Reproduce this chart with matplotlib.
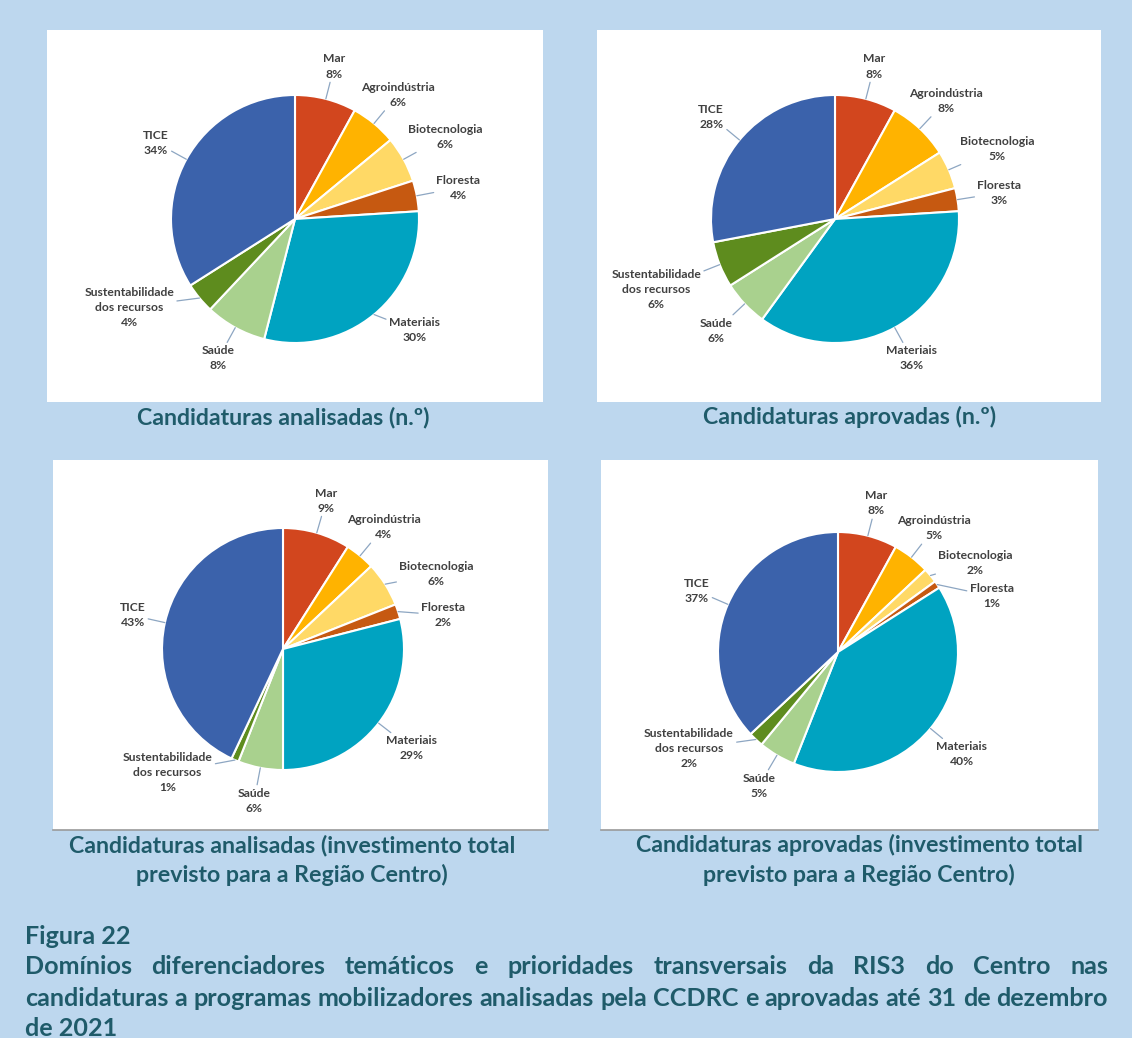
import numpy as np
import matplotlib.pyplot as plt
from matplotlib.patches import Rectangle

plt.rcParams['font.family'] = ['Lato', 'DejaVu Sans']

categories = ['Mar', 'Agroindústria', 'Biotecnologia', 'Floresta', 'Materiais',
              'Saúde', 'Sustentabilidade\ndos recursos', 'TICE']
analisadas_n = [8, 6, 6, 4, 30, 8, 4, 34]
aprovadas_n = [8, 8, 5, 3, 36, 6, 6, 28]
analisadas_inv = [9, 4, 6, 2, 29, 6, 1, 43]
aprovadas_inv = [8, 5, 2, 1, 40, 5, 2, 37]
captions = ['Candidaturas analisadas (n.º)',
            'Candidaturas aprovadas (n.º)',
            'Candidaturas analisadas (investimento total\nprevisto para a Região Centro)',
            'Candidaturas aprovadas (investimento total\nprevisto para a Região Centro)']

colors = ['#D2461E', '#FFB300', '#FFD966', '#C65911', '#00A3C1',
          '#A9D18E', '#5E8C1E', '#3B62AB']
bg = '#BDD7EE'
teal = '#1F5B6A'
label_col = '#404040'
leader_col = '#8DA6C2'

W, H = 1132, 1038
fig = plt.figure(figsize=(W / 100, H / 100), dpi=100, facecolor=bg)
ax = fig.add_axes([0, 0, 1, 1])
ax.set_xlim(0, W)
ax.set_ylim(0, H)
ax.axis('off')
renderer = fig.canvas.get_renderer()


def Y(y):
    return H - y


def text_box(s, size, **kw):
    t = ax.text(0, 0, s, fontsize=size, **kw)
    bb = t.get_window_extent(renderer)
    t.remove()
    return bb.width, bb.height


def fit(s, target, **kw):
    return 10 * target / text_box(s, 10, **kw)[0]


# panel boxes: x0, y0, x1, y1 (image px)
panels = [(47, 30, 543, 402), (597, 30, 1101, 402),
          (53, 460, 548, 830), (601, 460, 1098, 830)]
pies = [(295, 219, 124), (835, 219, 124), (283, 649, 121), (838, 652, 120)]
cap_pos = [(283, 417), (850, 417), (292, 860), (859, 860)]
series = [analisadas_n, aprovadas_n, analisadas_inv, aprovadas_inv]

# label direction overrides (deg) where the default mid-angle would crowd
tweak = {(0, 6): -152, (0, 4): -43, (2, 6): -133, (2, 2): 26, (2, 3): 12,
         (3, 6): -147, (3, 3): 20, (3, 2): 33}
gap = 20

lab_size = fit('Agroindústria', 74, fontweight='bold')
cap_size = fit('Candidaturas analisadas (n.º)', 293, fontweight='bold')
lab_kw = dict(fontweight='bold', linespacing=1.45)

for i, (vals, (x0, y0, x1, y1), (cx, cy, r)) in enumerate(zip(series, panels, pies)):
    ax.add_patch(Rectangle((x0, Y(y1)), x1 - x0, y1 - y0, facecolor='white',
                           edgecolor='none', zorder=0))
    if i >= 2:
        ax.plot([x0, x1], [Y(y1), Y(y1)], color='#9A9A9A', lw=1.2, zorder=1)
    wedges, _ = ax.pie(vals, colors=colors, startangle=90, counterclock=False,
                       center=(cx, Y(cy)), radius=r,
                       wedgeprops=dict(edgecolor='white', linewidth=1.5))
    for j, w in enumerate(wedges):
        label = f'{categories[j]}\n{vals[j]}%'
        mid = np.deg2rad((w.theta1 + w.theta2) / 2)
        a = np.deg2rad(tweak[(i, j)]) if (i, j) in tweak else mid
        ex, ey = cx + r * np.cos(mid), Y(cy) + r * np.sin(mid)
        bw, bh = text_box(label, lab_size, **lab_kw)
        c, s = np.cos(a), np.sin(a)
        t = min(bw / 2 / max(abs(c), 1e-6), bh / 2 / max(abs(s), 1e-6))
        d = r + gap + t
        ax.annotate(label, xy=(ex, ey), xytext=(cx + d * c, Y(cy) + d * s),
                    ha='center', va='center', fontsize=lab_size,
                    color=label_col, **lab_kw,
                    arrowprops=dict(arrowstyle='-', color=leader_col, lw=0.9,
                                    shrinkA=0, shrinkB=0))
    ax.set_xlim(0, W)
    ax.set_ylim(0, H)
    cxp, cyp = cap_pos[i]
    ax.text(cxp, Y(cyp), captions[i], ha='center', va='center',
            fontsize=cap_size, fontweight='bold', color=teal, linespacing=1.4)

# figure caption, justified
line1 = 'Domínios diferenciadores temáticos e prioridades transversais da RIS3 do Centro nas'
line2 = 'candidaturas a programas mobilizadores analisadas pela CCDRC e aprovadas até 31 de dezembro'
left, right = 25, 1108
par_size = fit(line2, right - left, fontweight='bold')
ax.text(left, Y(937), 'Figura 22', ha='left', va='center', fontsize=par_size,
        fontweight='bold', color=teal)
for line, yy in [(line1, 967), (line2, 999)]:
    words = line.split()
    widths = [text_box(wd, par_size, fontweight='bold')[0] for wd in words]
    space = (right - left - sum(widths)) / (len(words) - 1)
    x = left
    for wd, wdt in zip(words, widths):
        ax.text(x, Y(yy), wd, ha='left', va='center', fontsize=par_size,
                fontweight='bold', color=teal)
        x += wdt + space
ax.text(left, Y(1029), 'de 2021', ha='left', va='center', fontsize=par_size,
        fontweight='bold', color=teal)

fig.savefig('out.png', dpi=100, facecolor=bg)
plt.close()
